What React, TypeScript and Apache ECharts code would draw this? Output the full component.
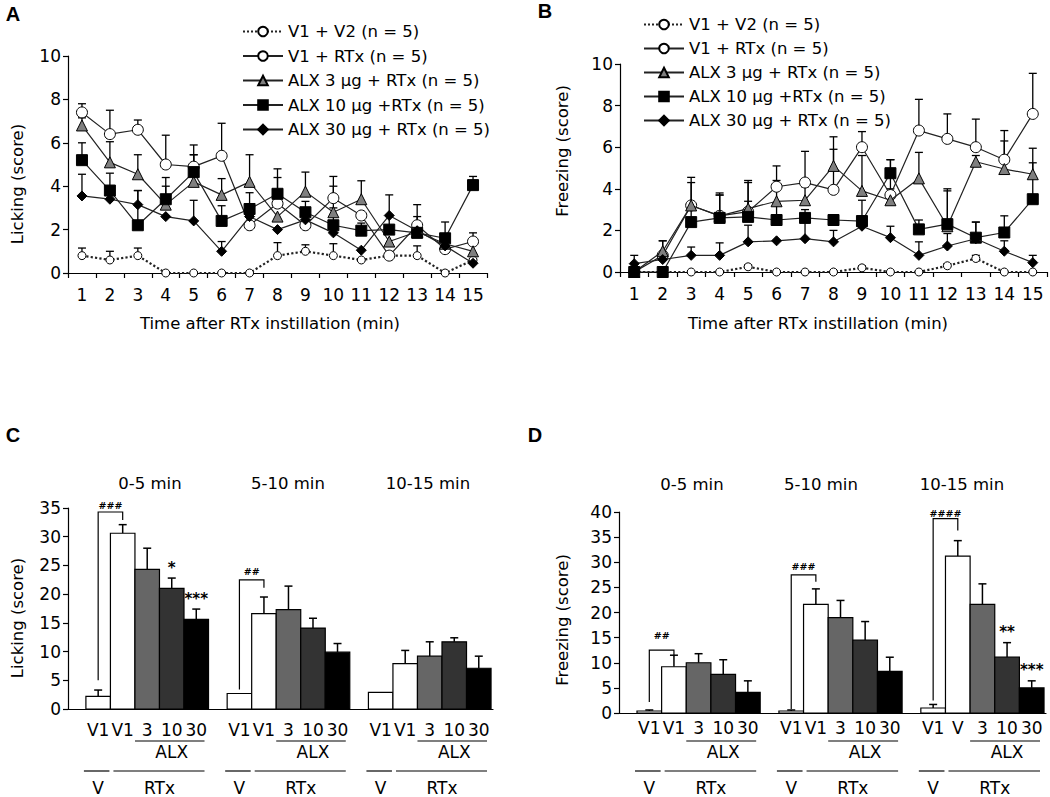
import React, { useEffect, useRef } from 'react';
import * as echarts from 'echarts';

const FONT = 'DejaVu Sans';

// ---------- Panels A & B: time course ----------
const minutes = ['1', '2', '3', '4', '5', '6', '7', '8', '9', '10', '11', '12', '13', '14', '15'];
const groupNames = [
  'V1 + V2 (n = 5)',
  'V1 + RTx (n = 5)',
  'ALX 3 µg + RTx (n = 5)',
  'ALX 10 µg +RTx (n = 5)',
  'ALX 30 µg + RTx (n = 5)',
];

// A: Licking (score)
const lickV1V2 = [0.8, 0.6, 0.8, 0, 0, 0, 0, 0.8, 1.0, 0.8, 0.6, 0.8, 0.8, 0, 0.6];
const lickV1V2Err = [1.15, 1.0, 1.15, null, null, null, null, 1.4, 1.3, 1.35, null, null, 1.25, null, 0.9];
const lickV1RTx = [7.4, 6.4, 6.6, 5.0, 4.9, 5.4, 2.2, 3.2, 2.2, 3.45, 2.65, 0.8, 2.2, 1.1, 1.45];
const lickV1RTxErr = [7.8, 7.5, 7.05, 6.35, 5.9, 6.9, null, 4.4, null, 4.45, null, null, 3.15, null, 1.85];
const lickAlx3 = [6.8, 5.1, 4.55, 3.15, 4.2, 3.6, 4.2, 2.6, 3.75, 2.8, 3.4, 1.45, 1.9, 1.35, 1.0];
const lickAlx3Err = [7.15, 6.05, 5.45, 4.4, 5.45, 4.35, 5.45, null, 4.65, 4.0, 4.25, null, null, null, 1.6];
const lickAlx10 = [5.2, 3.8, 2.2, 3.4, 4.65, 2.4, 2.95, 3.65, 2.8, 2.2, 1.95, 2.0, 1.85, 1.6, 4.05];
const lickAlx10Err = [6.0, 4.6, 3.8, 4.0, 5.45, 3.1, 3.7, 4.8, 3.3, 3.0, 2.3, 3.6, 2.6, 2.35, 4.45];
const lickAlx30 = [3.55, 3.4, 3.15, 2.6, 2.4, 1.0, 2.6, 2.0, 2.45, 1.85, 1.05, 2.65, 1.95, 1.25, 0.45];
const lickAlx30Err = [4.55, null, 3.8, null, 3.35, 1.45, null, null, null, null, null, null, null, null, null];

// B: Freezing (score)
const frzV1V2 = [0, 0, 0, 0, 0.25, 0, 0, 0, 0.2, 0, 0, 0.3, 0.65, 0, 0];
const frzV1V2Err = [null, null, null, null, 0.35, null, null, null, 0.3, null, null, 0.4, 0.8, null, null];
const frzV1RTx = [0, 0.8, 3.2, 2.7, 2.9, 4.1, 4.3, 3.95, 6.0, 3.7, 6.8, 6.4, 6.0, 5.4, 7.6];
const frzV1RTxErr = [null, 1.5, 4.55, 3.8, 4.4, 5.1, 5.8, 6.5, 6.75, 5.4, 8.3, 7.6, 7.35, 6.8, 9.55];
const frzAlx3 = [0, 1.0, 3.2, 2.7, 3.05, 3.4, 3.45, 5.1, 3.9, 3.45, 4.5, 2.2, 5.3, 4.95, 4.7];
const frzAlx3Err = [null, 1.5, 4.3, 3.7, 4.3, 4.4, 4.1, 5.9, 5.6, 4.0, 5.75, 4.0, 5.6, 6.3, 5.95];
const frzAlx10 = [0, 0, 2.4, 2.6, 2.65, 2.5, 2.6, 2.5, 2.45, 4.75, 2.05, 2.3, 1.65, 1.9, 3.5];
const frzAlx10Err = [null, null, 3.2, 3.7, 3.4, 3.3, 3.0, null, 3.45, 5.4, 2.5, 3.9, 2.4, 2.7, 5.25];
const frzAlx30 = [0.4, 0.6, 0.8, 0.8, 1.45, 1.5, 1.6, 1.45, 2.2, 1.65, 0.8, 1.25, 1.6, 1.0, 0.45];
const frzAlx30Err = [0.8, null, 1.2, 1.4, 2.25, null, 2.4, 2.0, 2.5, 2.2, 1.45, 1.85, 2.4, 1.5, 0.8];

// ---------- Panels C & D: binned bars ----------
const periods = ['0-5 min', '5-10 min', '10-15 min'];
const lickingBarLabels = [
  ['V1', 'V1', '3', '10', '30'],
  ['V1', 'V1', '3', '10', '30'],
  ['V1', 'V1', '3', '10', '30'],
];
const freezingBarLabels = [
  ['V1', 'V1', '3', '10', '30'],
  ['V1', 'V1', '3', '10', '30'],
  ['V1', 'V', '3', '10', '30'],
];
const lickingBarMeans = [
  [2.2, 30.6, 24.3, 21.0, 15.6],
  [2.7, 16.6, 17.3, 14.1, 9.9],
  [2.9, 7.9, 9.2, 11.7, 7.1],
];
const lickingBarErrTop = [
  [3.3, 32.1, 28.0, 22.8, 17.4],
  [null, 19.5, 21.4, 15.8, 11.4],
  [null, 10.2, 11.7, 12.4, 9.2],
];
const freezingBarMeans = [
  [0.4, 9.2, 10.0, 7.7, 4.1],
  [0.4, 21.6, 19.0, 14.5, 8.3],
  [1.0, 31.2, 21.6, 11.1, 5.0],
];
const freezingBarErrTop = [
  [0.6, 11.5, 11.8, 10.6, 6.4],
  [0.6, 24.7, 22.4, 18.2, 11.1],
  [1.7, 34.3, 25.7, 14.0, 6.4],
];
// [group, bracket top, left leg end, right leg end, label level, label]
const lickingBrackets: [number, number, number, number, number, string][] = [
  [0, 34.3, 5.0, 32.9, 35.5, '###'],
  [1, 22.5, 3.4, 21.1, 23.9, '##'],
];
const freezingBrackets: [number, number, number, number, number, string][] = [
  [0, 12.5, 2.2, 11.3, 15.4, '##'],
  [1, 27.5, 0.8, 26.1, 29.2, '###'],
  [2, 38.7, 2.5, 36.3, 39.8, '####'],
];
// [group, bar, label]
const lickingStars: [number, number, string][] = [
  [0, 3, '*'],
  [0, 4, '***'],
];
const freezingStars: [number, number, string][] = [
  [2, 3, '**'],
  [2, 4, '***'],
];

// ---------- styles / layout ----------
const symbolStyles = [
  { symbol: 'circle', size: 8, fill: '#ffffff', type: 'dotted', width: 2.2 },
  { symbol: 'circle', size: 11, fill: '#ffffff', type: 'solid', width: 1.2 },
  { symbol: 'triangle', size: 11, fill: '#7f7f7f', type: 'solid', width: 1.2 },
  { symbol: 'rect', size: 11, fill: '#000000', type: 'solid', width: 1.2 },
  { symbol: 'diamond', size: 10, fill: '#000000', type: 'solid', width: 1.2 },
];
const barColors = ['#ffffff', '#ffffff', '#666666', '#333333', '#000000'];
const GROUP_STEP = 5.76;
const barPos = (g: number, b: number) => g * GROUP_STEP + b + 0.5;

const axisLineStyle = { color: '#000', width: 1.2 };

function catAxis(gridIndex: number) {
  return {
    type: 'category',
    gridIndex,
    data: minutes,
    boundaryGap: true,
    axisLine: { show: true, lineStyle: axisLineStyle },
    axisTick: { show: true, length: 5, interval: 0, lineStyle: axisLineStyle },
    axisLabel: { fontSize: 17, color: '#000', margin: 13, interval: 0, fontFamily: FONT },
    splitLine: { show: false },
  };
}
function barXAxis(gridIndex: number) {
  return {
    type: 'value',
    gridIndex,
    min: -0.73,
    max: 16.6,
    axisLine: { show: true, onZero: false, lineStyle: axisLineStyle },
    axisTick: { show: false },
    axisLabel: { show: false },
    splitLine: { show: false },
  };
}
function valAxis(gridIndex: number, max: number, interval: number) {
  return {
    type: 'value',
    gridIndex,
    min: 0,
    max,
    interval,
    axisLine: { show: true, onZero: false, lineStyle: axisLineStyle },
    axisTick: { show: true, length: 5, lineStyle: axisLineStyle },
    axisLabel: { fontSize: 17, color: '#000', margin: 7, fontFamily: FONT },
    splitLine: { show: false },
  };
}

function lineSeries(gridIndex: number, sets: number[][]) {
  return sets.map((data, s) => ({
    type: 'line',
    name: groupNames[s],
    xAxisIndex: gridIndex,
    yAxisIndex: gridIndex,
    data,
    symbol: symbolStyles[s].symbol,
    symbolSize: symbolStyles[s].size,
    showAllSymbol: true,
    z: 3 + s,
    silent: true,
    itemStyle: { color: symbolStyles[s].fill, borderColor: '#000', borderWidth: 1 },
    lineStyle: { color: '#222', width: symbolStyles[s].width, type: symbolStyles[s].type },
    emphasis: { disabled: true },
  }));
}

function errSeries(gridIndex: number, sets: number[][], errs: (number | null)[][]) {
  const data: number[][] = [];
  sets.forEach((arr, s) =>
    arr.forEach((v, i) => {
      const e = errs[s][i];
      if (e != null) data.push([i, v, e]);
    })
  );
  return {
    type: 'custom',
    xAxisIndex: gridIndex,
    yAxisIndex: gridIndex,
    z: 2,
    silent: true,
    encode: { x: 0, y: [1, 2] },
    data,
    renderItem: (_p: any, api: any) => {
      const i = api.value(0);
      const p0 = api.coord([i, api.value(1)]);
      const p1 = api.coord([i, api.value(2)]);
      return {
        type: 'group',
        children: [
          { type: 'line', shape: { x1: p0[0], y1: p0[1], x2: p1[0], y2: p1[1] }, style: { stroke: '#000', lineWidth: 1.3 } },
          { type: 'line', shape: { x1: p1[0] - 4, y1: p1[1], x2: p1[0] + 4, y2: p1[1] }, style: { stroke: '#000', lineWidth: 1.3 } },
        ],
      };
    },
  };
}

function barSeries(gridIndex: number, means: number[][], errs: (number | null)[][]) {
  const data: number[][] = [];
  means.forEach((row, g) =>
    row.forEach((m, b) => {
      const e = errs[g][b];
      data.push([barPos(g, b), m, e == null ? m : e, b]);
    })
  );
  return {
    type: 'custom',
    xAxisIndex: gridIndex,
    yAxisIndex: gridIndex,
    z: 3,
    silent: true,
    encode: { x: 0, y: [1, 2] },
    data,
    renderItem: (_p: any, api: any) => {
      const x = api.value(0);
      const m = api.value(1);
      const e = api.value(2);
      const b = api.value(3);
      const tl = api.coord([x - 0.5, m]);
      const br = api.coord([x + 0.5, 0]);
      const children: any[] = [];
      if (e > m) {
        const p = api.coord([x, e]);
        children.push(
          { type: 'line', shape: { x1: p[0], y1: tl[1], x2: p[0], y2: p[1] }, style: { stroke: '#000', lineWidth: 1.5 } },
          { type: 'line', shape: { x1: p[0] - 4, y1: p[1], x2: p[0] + 4, y2: p[1] }, style: { stroke: '#000', lineWidth: 1.5 } }
        );
      }
      children.push({
        type: 'rect',
        shape: { x: tl[0], y: tl[1], width: br[0] - tl[0], height: br[1] - tl[1] },
        style: { fill: barColors[b], stroke: '#000', lineWidth: 1.2 },
      });
      return { type: 'group', children };
    },
  };
}

function bracketSeries(gridIndex: number, brackets: [number, number, number, number, number, string][]) {
  return {
    type: 'custom',
    xAxisIndex: gridIndex,
    yAxisIndex: gridIndex,
    z: 4,
    silent: true,
    encode: { x: [0, 1], y: [2, 3, 4, 5] },
    data: brackets.map((br) => [barPos(br[0], 0), barPos(br[0], 1), br[1], br[2], br[3], br[4]]),
    renderItem: (params: any, api: any) => {
      const lx = api.value(0);
      const rx = api.value(1);
      const top = api.value(2);
      const a = api.coord([lx, api.value(3)]);
      const b = api.coord([lx, top]);
      const c = api.coord([rx, top]);
      const d = api.coord([rx, api.value(4)]);
      const t = api.coord([(lx + rx) / 2, api.value(5)]);
      return {
        type: 'group',
        children: [
          { type: 'polyline', shape: { points: [a, b, c, d] }, style: { stroke: '#000', lineWidth: 1.2, fill: 'none' } },
          {
            type: 'text',
            x: t[0],
            y: t[1],
            style: { text: brackets[params.dataIndex][5], align: 'center', verticalAlign: 'middle', fontSize: 9.5, fontWeight: 'bold', fontFamily: FONT, fill: '#000' },
          },
        ],
      };
    },
  };
}

function starSeries(gridIndex: number, stars: [number, number, string][], errs: (number | null)[][], means: number[][]) {
  return {
    type: 'custom',
    xAxisIndex: gridIndex,
    yAxisIndex: gridIndex,
    z: 4,
    silent: true,
    encode: { x: 0, y: 1 },
    data: stars.map((s) => [barPos(s[0], s[1]), errs[s[0]][s[1]] ?? means[s[0]][s[1]]]),
    renderItem: (params: any, api: any) => {
      const p = api.coord([api.value(0), api.value(1)]);
      return {
        type: 'text',
        x: p[0],
        y: p[1] - 3,
        style: { text: stars[params.dataIndex][2], align: 'center', verticalAlign: 'bottom', fontSize: 15, fontWeight: 'bold', fontFamily: FONT, fill: '#000' },
      };
    },
  };
}

type Dy = { label: number; alxLine: number; alxText: number; line: number; text: number };
function groupLabelSeries(gridIndex: number, labels: string[][], dy: Dy) {
  const txt = (x: number, y: number, text: string) => ({
    type: 'text',
    x,
    y,
    style: { text, align: 'center', verticalAlign: 'middle', fontSize: 17, fontFamily: FONT, fill: '#000' },
  });
  const ln = (x1: number, x2: number, y: number) => ({
    type: 'line',
    shape: { x1, y1: y, x2, y2: y },
    style: { stroke: '#000', lineWidth: 1.2 },
  });
  return {
    type: 'custom',
    xAxisIndex: gridIndex,
    yAxisIndex: gridIndex,
    z: 4,
    silent: true,
    encode: { x: 0, y: 1 },
    data: labels.map((_l, g) => [barPos(g, 2), 0, g]),
    renderItem: (_p: any, api: any) => {
      const g = api.value(2);
      const base = api.coord([barPos(g, 0), 0])[1];
      const left = (b: number) => api.coord([barPos(g, b) - 0.5, 0])[0];
      const right = (b: number) => api.coord([barPos(g, b) + 0.5, 0])[0];
      const cx = (b: number) => api.coord([barPos(g, b), 0])[0];
      const children: any[] = labels[g].map((t, b) => txt(cx(b), base + dy.label, t));
      children.push(ln(left(2), right(4) - 4, base + dy.alxLine));
      children.push(txt((left(2) + right(4)) / 2, base + dy.alxText, 'ALX'));
      children.push(ln(left(0) - 2, right(0) - 1, base + dy.line));
      children.push(ln(left(1) + 3, right(4) - 4, base + dy.line));
      children.push(txt(cx(0), base + dy.text, 'V'));
      children.push(txt((left(1) + right(4)) / 2, base + dy.text, 'RTx'));
      return { type: 'group', children };
    },
  };
}

function gText(x: number, y: number, text: string, fontSize = 16.5, rotate = false, bold = false, family = FONT) {
  return {
    type: 'text',
    x,
    y,
    rotation: rotate ? Math.PI / 2 : 0,
    silent: true,
    style: {
      text,
      align: 'center',
      verticalAlign: 'middle',
      fontSize,
      fontWeight: bold ? 'bold' : 'normal',
      fontFamily: family,
      fill: '#000',
    },
  };
}

const periodPosC = [
  [150, 483],
  [288, 483],
  [428, 483],
];
const periodPosD = [
  [692, 484],
  [821, 484],
  [962, 484],
];

function buildOption() {
  const lickSets = [lickV1V2, lickV1RTx, lickAlx3, lickAlx10, lickAlx30];
  const lickErrs = [lickV1V2Err, lickV1RTxErr, lickAlx3Err, lickAlx10Err, lickAlx30Err];
  const frzSets = [frzV1V2, frzV1RTx, frzAlx3, frzAlx10, frzAlx30];
  const frzErrs = [frzV1V2Err, frzV1RTxErr, frzAlx3Err, frzAlx10Err, frzAlx30Err];
  const legendBase = {
    data: groupNames,
    orient: 'vertical',
    itemWidth: 40,
    itemHeight: 12,
    selectedMode: false,
    textStyle: { fontFamily: FONT, fontSize: 16.5, color: '#000', lineHeight: 16 },
  };
  return {
    animation: false,
    backgroundColor: '#ffffff',
    textStyle: { fontFamily: FONT, color: '#000' },
    grid: [
      { left: 68, top: 56, width: 419, height: 217 },
      { left: 620, top: 64, width: 427, height: 208 },
      { left: 68, top: 508, width: 425, height: 201 },
      { left: 619, top: 512, width: 427, height: 201 },
    ],
    xAxis: [catAxis(0), catAxis(1), barXAxis(2), barXAxis(3)],
    yAxis: [valAxis(0, 10, 2), valAxis(1, 10, 2), valAxis(2, 35, 5), valAxis(3, 40, 5)],
    legend: [
      { ...legendBase, left: 237, top: 18, itemGap: 7.5 },
      { ...legendBase, left: 638, top: 11, itemGap: 7 },
    ],
    series: [
      errSeries(0, lickSets, lickErrs),
      ...lineSeries(0, lickSets),
      errSeries(1, frzSets, frzErrs),
      ...lineSeries(1, frzSets),
      barSeries(2, lickingBarMeans, lickingBarErrTop),
      bracketSeries(2, lickingBrackets),
      starSeries(2, lickingStars, lickingBarErrTop, lickingBarMeans),
      groupLabelSeries(2, lickingBarLabels, { label: 21, alxLine: 32, alxText: 43, line: 62, text: 79 }),
      barSeries(3, freezingBarMeans, freezingBarErrTop),
      bracketSeries(3, freezingBrackets),
      starSeries(3, freezingStars, freezingBarErrTop, freezingBarMeans),
      groupLabelSeries(3, freezingBarLabels, { label: 15, alxLine: 28, alxText: 39, line: 58, text: 75 }),
    ],
    graphic: [
      gText(13, 14, 'A', 20, false, true, 'Liberation Sans'),
      gText(545, 11, 'B', 20, false, true, 'Liberation Sans'),
      gText(13, 435, 'C', 20, false, true, 'Liberation Sans'),
      gText(535, 435, 'D', 20, false, true, 'Liberation Sans'),
      gText(17, 184, 'Licking (score)', 16.5, true),
      gText(270, 323, 'Time after RTx instillation (min)', 16.5),
      gText(562, 151, 'Freezing (score)', 16.5, true),
      gText(818, 323, 'Time after RTx instillation (min)', 16.5),
      gText(17, 618, 'Licking (score)', 16.5, true),
      gText(562, 620, 'Freezing (score)', 16.5, true),
      ...periods.map((p, i) => gText(periodPosC[i][0], periodPosC[i][1], p, 16.5)),
      ...periods.map((p, i) => gText(periodPosD[i][0], periodPosD[i][1], p, 16.5)),
    ],
  };
}

export default function App() {
  const ref = useRef<HTMLDivElement>(null);
  useEffect(() => {
    if (!ref.current) return;
    const chart = echarts.init(ref.current, undefined, { renderer: 'svg' });
    chart.setOption(buildOption() as any);
    return () => chart.dispose();
  }, []);
  return (
    <div
      ref={ref}
      style={{ position: 'absolute', left: 0, top: 0, width: 1050, height: 797, background: '#fff' }}
    />
  );
}
